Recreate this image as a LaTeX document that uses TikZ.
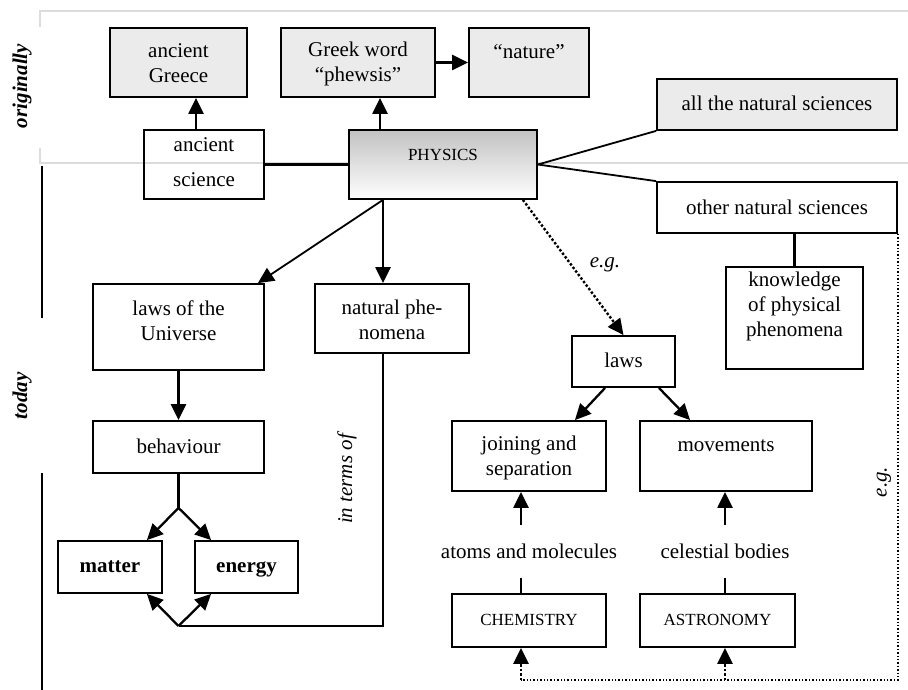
\documentclass[tikz,border=0pt]{standalone}
\usepackage{fontspec}
\setmainfont{Liberation Serif}
\usetikzlibrary{arrows.meta,calc}
\definecolor{boxgray}{HTML}{EBEBEB}
\definecolor{framegray}{HTML}{DCDCDC}
\begin{document}
\begin{tikzpicture}[x=1pt,y=1pt,
  box/.style={draw=black, line width=1.8pt, inner sep=0pt, rectangle},
  gbox/.style={box, fill=boxgray},
  txt/.style={inner sep=0pt, align=center, font=\fontsize{21}{25}\selectfont},
  stxt/.style={inner sep=0pt, align=center, font=\fontsize{17}{20}\selectfont},
  btxt/.style={inner sep=0pt, align=center, anchor=base, font=\fontsize{21}{25}\selectfont\bfseries},
  itxt/.style={inner sep=0pt, align=center, font=\fontsize{21}{25}\selectfont\itshape},
  rlab/.style={inner sep=0pt, rotate=90, font=\fontsize{21}{25}\selectfont\bfseries\itshape},
  conn/.style={line width=2.3pt},
  thinconn/.style={line width=1.8pt},
  tip/.style={-{Triangle[length=16pt,width=15pt]}},
  arr/.style={conn, tip},
  thinarr/.style={thinconn, tip},
  dotarr/.style={line width=2.4pt, dotted, tip},
  dotthin/.style={line width=1.4pt, dotted},
  frame/.style={draw=framegray, line width=2pt},
  side/.style={draw=black, line width=1.8pt}]
\useasboundingbox (0,0) rectangle (908,-690);
% frame of the two periods
\draw[frame] (40,-27) -- (40,-11) -- (908,-11);
\draw[frame] (40,-148) -- (40,-163.5) -- (908,-163.5);
\draw[side] (42,-166) -- (42,-318);
\draw[side] (42,-473) -- (42,-690);
\node[rlab] (orig) at (22,-86) {originally};
\node[rlab] (today) at (22,-396) {today};
% boxes
\node[gbox, minimum width=137pt, minimum height=69pt] (greece) at (178.5,-62.5) {};
\node[gbox, minimum width=154pt, minimum height=69pt] (greek) at (358,-62.5) {};
\node[gbox, minimum width=120pt, minimum height=69pt] (nature) at (529,-62.5) {};
\node[gbox, minimum width=240pt, minimum height=51pt] (allnat) at (777,-104.5) {};
\node[box, minimum width=120pt, minimum height=69pt] (ancsci) at (204,-164.5) {};
\node[box, shade, top color=black!24, bottom color=white, minimum width=188pt, minimum height=69pt] (physics) at (443,-164.5) {};
\node[box, minimum width=240pt, minimum height=51pt] (othernat) at (777,-207.5) {};
\node[box, minimum width=137pt, minimum height=102pt] (knowledge) at (794.5,-318) {};
\node[box, minimum width=171pt, minimum height=86pt] (lawsU) at (178.5,-327) {};
\node[box, minimum width=154pt, minimum height=69pt] (natph) at (392,-318.5) {};
\node[box, minimum width=103pt, minimum height=51pt] (laws) at (623.5,-361.5) {};
\node[box, minimum width=171pt, minimum height=52pt] (behaviour) at (178.5,-447) {};
\node[box, minimum width=104pt, minimum height=52pt] (matter) at (110,-567) {};
\node[box, minimum width=103pt, minimum height=52pt] (energy) at (246.5,-567) {};
\node[box, minimum width=154pt, minimum height=70pt] (joining) at (529,-456) {};
\node[box, minimum width=172pt, minimum height=70pt] (movements) at (726,-456) {};
\node[box, minimum width=154pt, minimum height=53pt] (chem) at (529,-620.5) {};
\node[box, minimum width=155pt, minimum height=53pt] (astro) at (717.5,-620.5) {};
% texts
\node[txt] (greece-t) at (178.5,-63.5) {ancient\\Greece};
\node[txt] (greek-t) at (358,-63.5) {Greek word\\“phewsis”};
\node[txt] (nature-t) at (529,-52) {“nature”};
\node[txt] (allnat-t) at (777,-103) {all the natural sciences};
\node[txt] (ancsci-t1) at (204,-145) {ancient};
\node[txt] (ancsci-t2) at (204,-180) {science};
\node[stxt] (physics-t) at (443,-155) {PHYSICS};
\node[txt] (othernat-t) at (777,-207) {other natural sciences};
\node[txt] (knowledge-t) at (794.5,-306) {knowledge\\of physical\\phenomena};
\node[txt] (lawsU-t) at (178.5,-320.5) {laws of the\\Universe};
\node[txt] (natph-t) at (392,-320) {natural phe-\\nomena};
\node[txt] (laws-t) at (623.5,-360) {laws};
\node[txt] (behaviour-t) at (178.5,-446) {behaviour};
\node[btxt] (matter-t) at (110,-572) {matter};
\node[btxt] (energy-t) at (246.5,-572) {energy};
\node[txt] (joining-t) at (529,-458) {joining and\\separation};
\node[txt] (movements-t) at (726,-446) {movements};
\node[stxt] (chem-t) at (529,-620) {CHEMISTRY};
\node[stxt] (astro-t) at (717.5,-620) {ASTRONOMY};
\node[txt, minimum height=53pt] (atoms) at (529,-551.5) {atoms and molecules};
\node[txt, minimum height=53pt] (celestial) at (725,-551.5) {celestial bodies};
\node[itxt] (eg1) at (605,-265) {e.g.};
\node[itxt, rotate=90] (eg2) at (884,-482) {e.g.};
\node[itxt, rotate=90] (interms) at (347,-479) {in terms of};
% connectors
\draw[arr] ([xshift=-8pt]ancsci.north) -- ([xshift=17.5pt]greece.south);
\draw[arr] ([xshift=-63pt]physics.north) -- ([xshift=22pt]greek.south);
\draw[arr] (greek.east) -- (nature.west);
\draw[conn] (ancsci.east) -- (physics.west);
\draw[thinconn] (physics.east) -- (allnat.south west);
\draw[thinconn] (physics.east) -- (othernat.north west);
\draw[conn] (othernat.south -| knowledge.north) -- (knowledge.north);
\coordinate (pb) at ([xshift=-60pt]physics.south);
\draw[thinarr] (pb) -- ([xshift=-7pt]lawsU.north east);
\draw[arr] (pb) -- (pb |- natph.north);
\draw[arr] (lawsU.south) -- (behaviour.north);
\coordinate (split) at ([yshift=-34pt]behaviour.south);
\draw[conn] (behaviour.south) -- (split);
\draw[arr] (split) -- ([xshift=-16pt]matter.north east);
\draw[arr] (split) -- ([xshift=17pt]energy.north west);
\coordinate (yj) at (0,-626);
\coordinate (join) at (split |- yj);
\draw[conn] (pb |- natph.south) -- (pb |- yj) -- (join);
\draw[arr] (join) -- ([xshift=-16pt]matter.south east);
\draw[arr] (join) -- ([xshift=17pt]energy.south west);
\draw[dotarr] ([xshift=-15pt]physics.south east) -- (laws.north);
\draw[arr] ([xshift=34pt]laws.south west) -- ([xshift=-32pt]joining.north east);
\draw[arr] ([xshift=-17pt]laws.south east) -- ([xshift=51pt]movements.north west);
\coordinate (ax) at ([xshift=-8pt]atoms.north);
\draw[arr] (ax) -- (ax |- joining.south);
\draw[conn] (ax |- atoms.south) -- (ax |- chem.north);
\draw[arr] (celestial.north) -- (celestial.north |- movements.south);
\draw[conn] (celestial.south) -- (celestial.south |- astro.north);
\coordinate (ybot) at (0,-680);
\draw[dotthin] (othernat.south east) -- (othernat.south east |- ybot) -- (ax |- ybot);
\draw[dotarr] (ax |- ybot) -- (ax |- chem.south);
\draw[dotarr] (celestial.south |- ybot) -- (celestial.south |- astro.south);
\end{tikzpicture}
\end{document}
